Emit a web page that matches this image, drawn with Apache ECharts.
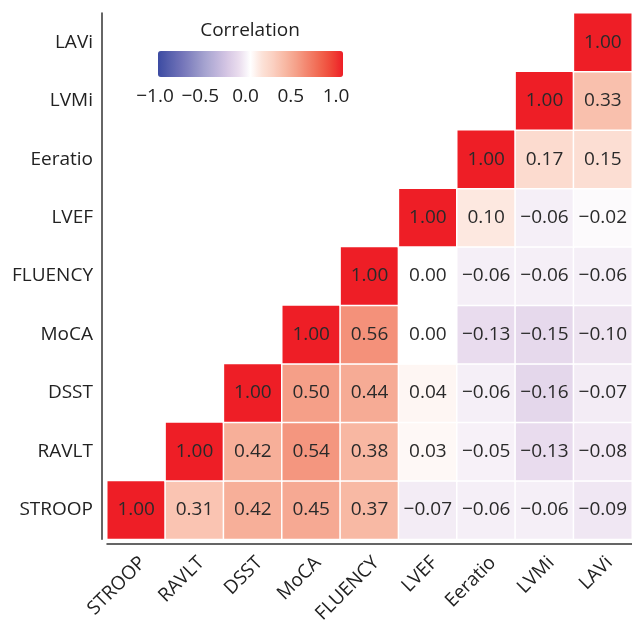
<!DOCTYPE html>
<html>
<head>
<meta charset="utf-8">
<script src="https://cdn.jsdelivr.net/npm/echarts@6/dist/echarts.min.js"></script>
<style>
html,body{margin:0;padding:0;background:#fff;}
#chart{width:632px;height:626px;}
</style>
</head>
<body>
<div id="chart"></div>
<script>
// Variables (x: left to right, y: bottom to top)
const variables = ['STROOP','RAVLT','DSST','MoCA','FLUENCY','LVEF','Eeratio','LVMi','LAVi'];

// Each row lists correlations from the diagonal rightwards
const rowSTROOP  = [1.00, 0.31, 0.42, 0.45, 0.37, -0.07, -0.06, -0.06, -0.09];
const rowRAVLT   = [1.00, 0.42, 0.54, 0.38, 0.03, -0.05, -0.13, -0.08];
const rowDSST    = [1.00, 0.50, 0.44, 0.04, -0.06, -0.16, -0.07];
const rowMoCA    = [1.00, 0.56, 0.00, -0.13, -0.15, -0.10];
const rowFLUENCY = [1.00, 0.00, -0.06, -0.06, -0.06];
const rowLVEF    = [1.00, 0.10, -0.06, -0.02];
const rowEeratio = [1.00, 0.17, 0.15];
const rowLVMi    = [1.00, 0.33];
const rowLAVi    = [1.00];

const colorbarTicks = [-1.0, -0.5, 0.0, 0.5, 1.0];
const legendTitle = 'Correlation';

const rows = [rowSTROOP,rowRAVLT,rowDSST,rowMoCA,rowFLUENCY,rowLVEF,rowEeratio,rowLVMi,rowLAVi];
const data = [];
rows.forEach((row, yi) => {
  row.forEach((v, k) => { data.push([yi + k, yi, v]); });
});

const FONT = '"Open Sans", "DejaVu Sans", sans-serif';
const FS = 19;
const fmt = v => (v < 0 ? '\u2212' : '') + Math.abs(v).toFixed(2);
const fmt1 = v => (v < 0 ? '\u2212' : '') + Math.abs(v).toFixed(1);

const barLeft = 158, barLen = 185, barTop = 51, barThick = 26;
const tickLeft = 155, tickSpan = 181;

const chart = echarts.init(document.getElementById('chart'), null, {renderer: 'canvas'});
chart.setOption({
  backgroundColor: '#ffffff',
  animation: false,
  textStyle: {fontFamily: FONT},
  grid: {left: 107, right: 0, top: 13, bottom: 84, containLabel: false},
  xAxis: {
    type: 'category', data: variables, offset: 5,
    axisLine: {lineStyle: {color: '#333', width: 1.5}},
    axisTick: {alignWithLabel: true, length: 5, lineStyle: {color: '#333', width: 1.5}},
    axisLabel: {rotate: 45, fontSize: FS, color: '#222', margin: 9, verticalAlign: 'top', fontFamily: FONT},
    splitLine: {show: false}
  },
  yAxis: {
    type: 'category', data: variables, offset: 5,
    axisLine: {lineStyle: {color: '#333', width: 1.5}},
    axisTick: {alignWithLabel: true, length: 5, lineStyle: {color: '#333', width: 1.5}},
    axisLabel: {fontSize: FS, color: '#222', margin: 9, fontFamily: FONT},
    splitLine: {show: false}
  },
  visualMap: {
    type: 'continuous', min: -1, max: 1, orient: 'horizontal',
    left: barLeft, top: barTop, itemWidth: barThick, itemHeight: barLen,
    padding: 0, calculable: false, hoverLink: false, seriesIndex: 0,
    text: null, showLabel: false,
    inRange: {color: [
      '#3C4BA2','#5760AD','#7172B8','#8A8AC3','#A4A2CF','#BDB4DA','#D6C7E4','#EADDEE',
      '#FFFFFF',
      '#FCE2D8','#FBCFC0','#F8B8A3','#F59F88','#F3826B','#F1664F','#EF4638','#EE1E26']}
  },
  series: [{
    type: 'heatmap', data: data,
    itemStyle: {borderColor: '#ffffff', borderWidth: 1.5},
    label: {show: true, fontSize: FS, color: '#2a2a2a', fontFamily: FONT,
      formatter: p => fmt(p.value[2])},
    emphasis: {disabled: true}
  }],
  graphic: [
    {type: 'text', x: 250, y: 31,
     style: {text: legendTitle, align: 'center', verticalAlign: 'middle',
       font: FS + 'px ' + FONT, fill: '#222'}}
  ].concat(colorbarTicks.map(v => ({
    type: 'text', x: tickLeft + (v + 1) / 2 * tickSpan, y: 97,
    style: {text: fmt1(v), align: 'center', verticalAlign: 'middle', font: FS + 'px ' + FONT, fill: '#222'}
  })))
});
</script>
</body>
</html>
